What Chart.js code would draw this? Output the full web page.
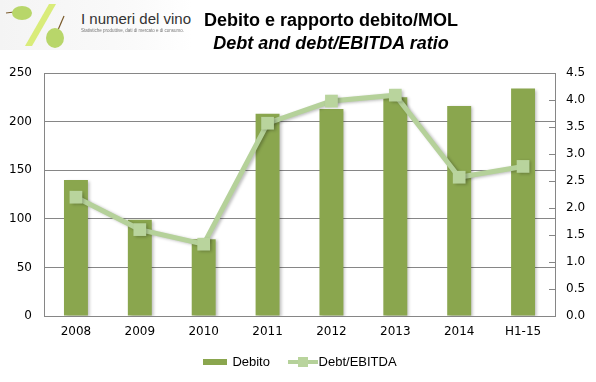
<!DOCTYPE html>
<html>
<head>
<meta charset="utf-8">
<script src="https://cdn.jsdelivr.net/npm/chart.js@4"></script>
<style>
html,body{margin:0;padding:0;background:#fff;}
#wrap{position:relative;width:596px;height:382px;overflow:hidden;}
#c{position:absolute;left:0;top:0;}
.t1{position:absolute;left:0;width:662px;text-align:center;top:10px;font:bold 18px "Liberation Sans",Arial,sans-serif;color:#000;}
.t2{position:absolute;left:0;width:662px;text-align:center;top:33px;font:italic bold 18px "Liberation Sans",Arial,sans-serif;color:#000;}
.logo{position:absolute;left:0;top:0;width:192px;height:50px;background:linear-gradient(90deg,#f4f4f4,#fafafa 70%,#fff);}
.logoT{position:absolute;left:81px;top:10px;font:15px "Liberation Sans",Arial,sans-serif;color:#333;white-space:nowrap;}
.logoS{position:absolute;left:81px;top:28px;font:4.5px "Liberation Sans",Arial,sans-serif;color:#777;white-space:nowrap;}
#legend{position:absolute;top:353px;left:0;width:600px;text-align:center;font:13px "Liberation Sans",Arial,sans-serif;color:#000;}
#legend span{display:inline-block;vertical-align:middle;}
</style>
</head>
<body>
<div id="wrap">
<canvas id="c" width="596" height="382"></canvas>
<div class="logo">
<svg width="80" height="50" style="position:absolute;left:0;top:0">
<line x1="14" y1="12" x2="6" y2="13" stroke="#7a5a2a" stroke-width="1.2"/>
<ellipse cx="22" cy="13" rx="10" ry="7" fill="#b8d66a"/>
<polygon points="49,4 56,4 32,46 25,46" fill="#d9ec7a"/>
<line x1="58" y1="30" x2="64" y2="16" stroke="#7a5a2a" stroke-width="1.2"/>
<ellipse cx="55" cy="38" rx="9" ry="10" fill="#b8d66a"/>
</svg>
<div class="logoT">I numeri del vino</div>
<div class="logoS">Statistiche produttive, dati di mercato e di consumo.</div>
</div>
<div class="t1">Debito e rapporto debito/MOL</div>
<div class="t2">Debt and debt/EBITDA ratio</div>
<div id="legend">
<span style="width:24px;height:6px;background:#8aa64e;margin-right:5px;"></span><span>Debito</span>
<span style="position:relative;width:30px;height:10px;margin-left:14px;margin-right:1px;">
 <span style="position:absolute;left:0;top:3px;width:30px;height:4px;background:#b5d19a;"></span>
 <span style="position:absolute;left:10px;top:0;width:10px;height:10px;background:#b9d49d;"></span>
</span><span>Debt/EBITDA</span>
</div>
</div>
<script>
const categories = ["2008","2009","2010","2011","2012","2013","2014","H1-15"];
const debito = [140, 99, 79, 208, 213, 225, 216, 234];
const debtEbitda = [2.2, 1.6, 1.33, 3.57, 3.98, 4.09, 2.57, 2.77];
const leftTicks = [0, 50, 100, 150, 200, 250];
const rightTicks = [0, 0.5, 1, 1.5, 2, 2.5, 3, 3.5, 4, 4.5];

const shadowPlugin = {
  id: 'shadow',
  beforeDatasetDraw(chart, args) {
    const ctx = chart.ctx;
    ctx.save();
    ctx.shadowColor = 'rgba(0,0,0,0.25)';
    ctx.shadowBlur = 3;
    ctx.shadowOffsetX = 2;
    ctx.shadowOffsetY = 1;
  },
  afterDatasetDraw(chart) { chart.ctx.restore(); }
};

const innerTicks = {
  id: 'innerTicks',
  afterDraw(chart) {
    const s = chart.scales.y1, ctx = chart.ctx;
    ctx.save();
    ctx.strokeStyle = '#868686';
    ctx.lineWidth = 1;
    rightTicks.forEach(v => {
      const y = Math.round(s.getPixelForValue(v)) + 0.5;
      ctx.beginPath();
      ctx.moveTo(chart.chartArea.right - 6, y);
      ctx.lineTo(chart.chartArea.right, y);
      ctx.stroke();
    });
    ctx.restore();
  }
};

new Chart(document.getElementById('c'), {
  type: 'bar',
  data: {
    labels: categories,
    datasets: [
      {
        type: 'line', label: 'Debt/EBITDA', data: debtEbitda, yAxisID: 'y1', order: 0,
        borderColor: '#b5d19a', backgroundColor: '#b9d49d', borderWidth: 5,
        pointStyle: 'rect', pointRadius: 9, pointBackgroundColor: '#b9d49d',
        pointBorderColor: '#b9d49d', pointBorderWidth: 0, tension: 0
      },
      {
        type: 'bar', label: 'Debito', data: debito, yAxisID: 'y', order: 1,
        backgroundColor: '#8aa64e', borderWidth: 0,
        barPercentage: 0.375, categoryPercentage: 1
      }
    ]
  },
  plugins: [shadowPlugin, innerTicks],
  options: {
    responsive: false, animation: false,
    layout: { padding: { top: 73, left: 0, right: 0, bottom: 0 } },
    plugins: { legend: { display: false }, tooltip: { enabled: false }, title: { display: false } },
    scales: {
      x: {
        grid: { display: false, drawTicks: false },
        border: { display: true, color: '#868686' },
        ticks: { color: '#000', padding: 9, font: { family: 'DejaVu Sans', size: 12 }, maxRotation: 0 },
        afterFit(s) { s.height = 66; }
      },
      y: {
        position: 'left', min: 0, max: 250,
        afterBuildTicks(s) { s.ticks = leftTicks.map(v => ({ value: v })); },
        grid: { color: '#868686', drawTicks: false },
        border: { display: true, color: '#868686' },
        ticks: { color: '#000', padding: 12, font: { family: 'DejaVu Sans', size: 12 } },
        afterFit(s) { s.width = 44; }
      },
      y1: {
        position: 'right', min: 0, max: 4.5,
        afterBuildTicks(s) { s.ticks = rightTicks.map(v => ({ value: v })); },
        grid: { drawOnChartArea: false, drawTicks: false },
        border: { display: true, color: '#868686' },
        ticks: { color: '#000', padding: 11, font: { family: 'DejaVu Sans', size: 12 }, callback: v => v.toFixed(1) },
        afterFit(s) { s.width = 41; }
      }
    }
  }
});
</script>
</body>
</html>
